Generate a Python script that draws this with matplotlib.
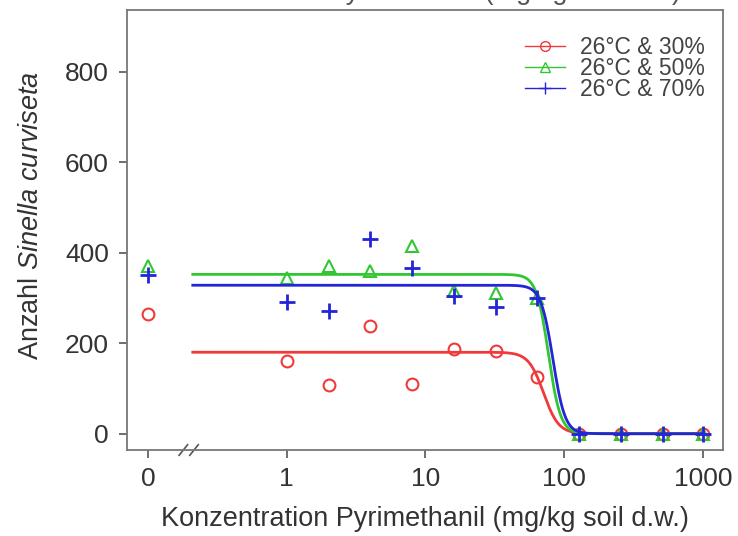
import matplotlib.pyplot as plt
import numpy as np
from matplotlib.lines import Line2D

plt.rcParams['font.family'] = ['Liberation Sans', 'DejaVu Sans']
plt.rcParams['mathtext.fontset'] = 'custom'
plt.rcParams['mathtext.rm'] = 'Liberation Sans'
plt.rcParams['mathtext.it'] = 'Liberation Sans:italic'

# concentrations (0 is drawn at 0.1 on the log axis)
konz = [0, 1, 2, 4, 8, 16, 32, 64, 128, 256, 512, 1000]
rh30 = [265, 160, 108, 237, 110, 187, 183, 125, 0, 0, 0, 0]
rh50 = [370, 345, 370, 360, 415, 315, 310, 300, 0, 0, 0, 0]
rh70 = [350, 290, 270, 430, 365, 305, 280, 300, 0, 0, 0, 0]
labels = ['26°C & 30%', '26°C & 50%', '26°C & 70%']
farben = ['#f03a3a', '#33c633', '#2424d8']
# log-logistic fit parameters: top, EC50, slope
fits = [(180, 71, 8), (352, 77, 10), (328, 83, 10)]

xpos = np.array([0.1 if k == 0 else k for k in konz], dtype=float)

fig = plt.figure(figsize=(7.38, 5.36), dpi=100)
ax = fig.add_axes([127/738, 86/536, 596/738, 440/536])

xs = np.logspace(np.log10(0.21), 3, 400)
for werte, farbe, (top, ec, b), mk in zip([rh30, rh50, rh70], farben, fits, ['o', '^', '+']):
    ax.plot(xs, top / (1 + (xs / ec) ** b), color=farbe, lw=2)
    if mk == '+':
        ax.plot(xpos, werte, ls='none', marker='+', ms=11, mew=2, color=farbe)
    else:
        ax.plot(xpos, werte, ls='none', marker=mk, ms=8.5, mfc='none', mew=1.5, color=farbe)

ax.set_xscale('log')
ax.set_xlim(10 ** -1.152, 10 ** 3.145)
ax.set_ylim(-36, 936)
ax.set_xticks([0.1, 1, 10, 100, 1000])
ax.set_xticklabels(['0', '1', '10', '100', '1000'])
ax.minorticks_off()
ax.set_yticks([0, 200, 400, 600, 800])
ax.tick_params(labelsize=19, length=6, width=1.2, color='#555555', labelcolor='#333333', pad=7)
ax.tick_params(axis='x', pad=6)
for s in ax.spines.values():
    s.set_color('#777777')
    s.set_linewidth(1.3)

ax.set_xlabel('Konzentration Pyrimethanil (mg/kg soil d.w.)', fontsize=19.5, color='#333333', labelpad=11)
ax.set_ylabel('Anzahl $\\mathit{Sinella\\ curviseta}$', fontsize=19.5, color='#333333')
ax.yaxis.set_label_coords(-0.139, 0.534)

# axis break marks
trans = ax.get_xaxis_transform()
for xb in [0.18, 0.215]:
    ax.plot([xb * 0.93, xb * 1.07], [-0.012, 0.012], transform=trans, color='#555555', lw=1.2, clip_on=False)

handles = [Line2D([], [], color=farben[0], marker='o', mfc='none', ms=7, lw=1),
           Line2D([], [], color=farben[1], marker='^', mfc='none', ms=7, lw=1),
           Line2D([], [], color=farben[2], marker='+', ms=9, lw=1)]
leg = ax.legend(handles, labels, loc='upper right', frameon=False, fontsize=16.5,
                bbox_to_anchor=(705/738, 1 - 36/536), bbox_transform=fig.transFigure,
                borderaxespad=0, borderpad=0,
                handlelength=1.75, labelspacing=-0.08, handletextpad=0.65)
for t in leg.get_texts():
    t.set_color('#444444')

# title clipped at the top of the image
fig.text(0.565, 1.015, 'Konzentration Pyrimethanil (mg/kg soil d.w.)', ha='center', va='center',
         fontsize=19.5, color='#555555')

plt.savefig('out.png', dpi=100)
